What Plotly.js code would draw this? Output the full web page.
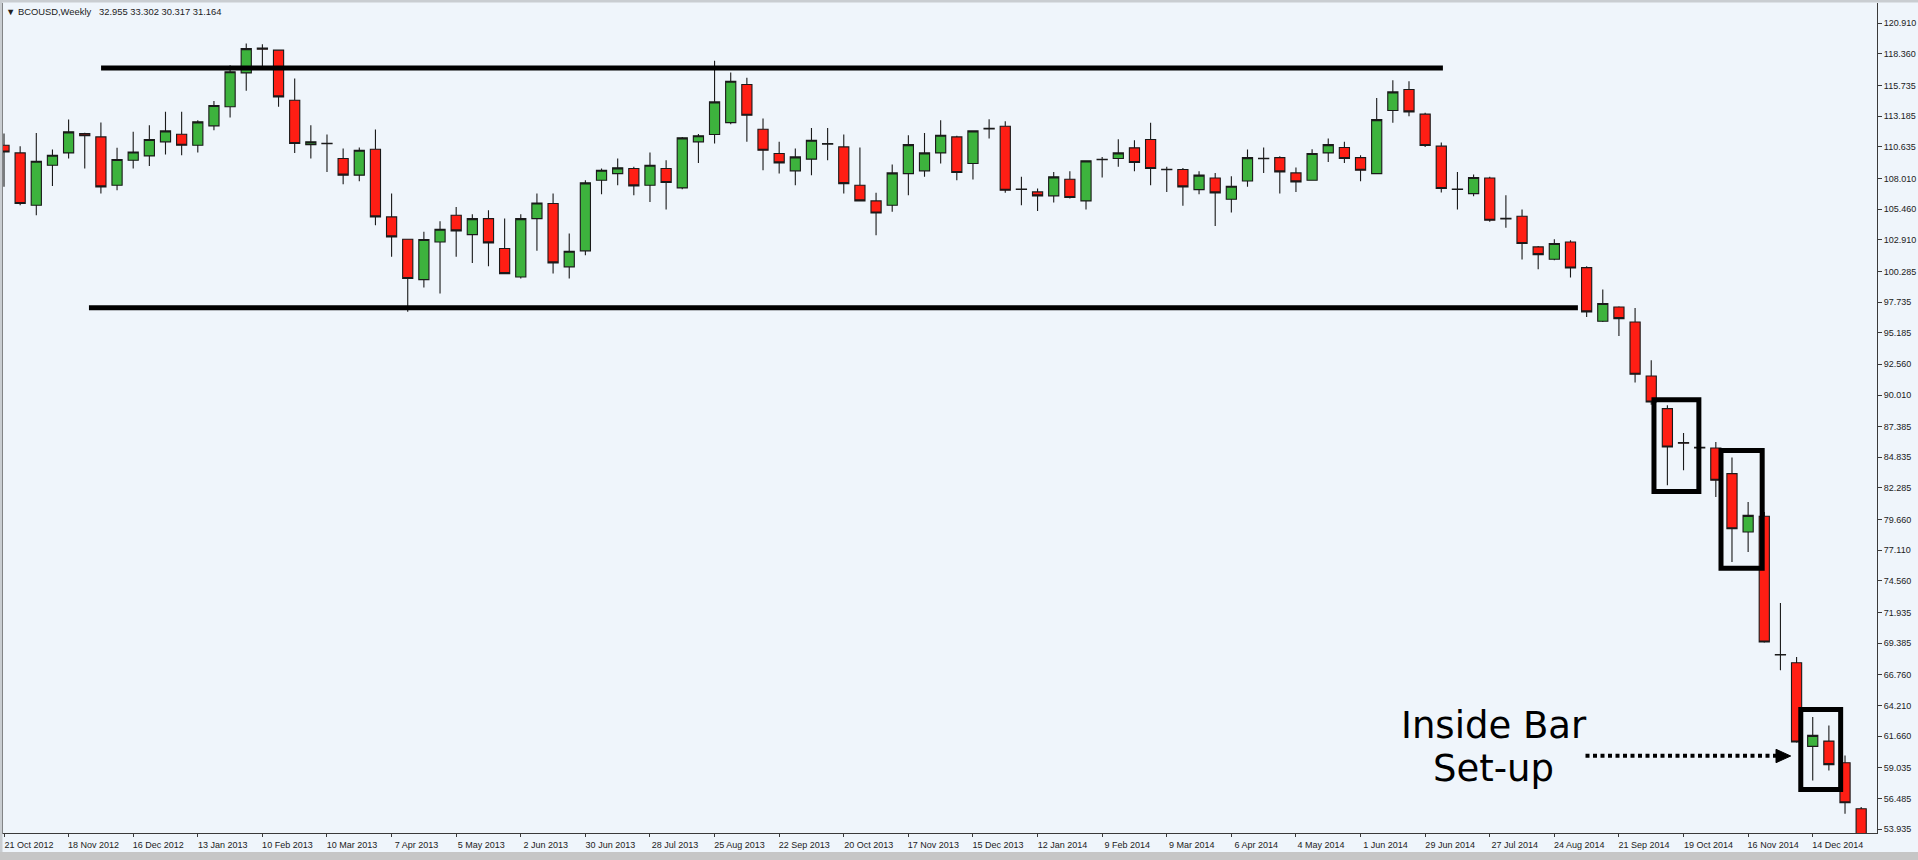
<!DOCTYPE html>
<html><head><meta charset="utf-8">
<script src="https://cdn.plot.ly/plotly-3.0.1.min.js"></script>
<style>html,body{margin:0;padding:0;background:#EFF5FB;overflow:hidden}</style>
</head><body><div id="chart" style="width:1918px;height:860px"></div>
<script>
const weeks = [
"21 Oct 2012","28 Oct 2012","4 Nov 2012","11 Nov 2012","18 Nov 2012","25 Nov 2012","2 Dec 2012","9 Dec 2012","16 Dec 2012","23 Dec 2012","30 Dec 2012",
"6 Jan 2013","13 Jan 2013","20 Jan 2013","27 Jan 2013","3 Feb 2013","10 Feb 2013","17 Feb 2013","24 Feb 2013","3 Mar 2013","10 Mar 2013","17 Mar 2013","24 Mar 2013","31 Mar 2013",
"7 Apr 2013","14 Apr 2013","21 Apr 2013","28 Apr 2013","5 May 2013","12 May 2013","19 May 2013","26 May 2013","2 Jun 2013","9 Jun 2013","16 Jun 2013","23 Jun 2013","30 Jun 2013",
"7 Jul 2013","14 Jul 2013","21 Jul 2013","28 Jul 2013","4 Aug 2013","11 Aug 2013","18 Aug 2013","25 Aug 2013","1 Sep 2013","8 Sep 2013","15 Sep 2013","22 Sep 2013","29 Sep 2013",
"6 Oct 2013","13 Oct 2013","20 Oct 2013","27 Oct 2013","3 Nov 2013","10 Nov 2013","17 Nov 2013","24 Nov 2013","1 Dec 2013","8 Dec 2013","15 Dec 2013","22 Dec 2013","29 Dec 2013",
"5 Jan 2014","12 Jan 2014","19 Jan 2014","26 Jan 2014","2 Feb 2014","9 Feb 2014","16 Feb 2014","23 Feb 2014","2 Mar 2014","9 Mar 2014","16 Mar 2014","23 Mar 2014","30 Mar 2014",
"6 Apr 2014","13 Apr 2014","20 Apr 2014","27 Apr 2014","4 May 2014","11 May 2014","18 May 2014","25 May 2014","1 Jun 2014","8 Jun 2014","15 Jun 2014","22 Jun 2014","29 Jun 2014",
"6 Jul 2014","13 Jul 2014","20 Jul 2014","27 Jul 2014","3 Aug 2014","10 Aug 2014","17 Aug 2014","24 Aug 2014","31 Aug 2014","7 Sep 2014","14 Sep 2014","21 Sep 2014","28 Sep 2014",
"5 Oct 2014","12 Oct 2014","19 Oct 2014","26 Oct 2014","2 Nov 2014","9 Nov 2014","16 Nov 2014","23 Nov 2014","30 Nov 2014","7 Dec 2014","14 Dec 2014","21 Dec 2014","28 Dec 2014","4 Jan 2015"];

const openPrice = [
110.77,110.13,105.78,109.11,110.13,111.74,111.46,107.44,109.52,109.88,111.05,111.68,110.77,112.38,113.96,116.78,118.85,118.67,114.51,110.82,
110.93,109.66,108.28,110.44,104.81,102.96,99.60,102.73,104.95,103.34,104.67,102.18,99.82,104.67,105.92,100.66,101.99,107.86,108.41,108.83,
107.44,108.83,107.22,111.05,111.66,112.65,115.81,112.10,110.08,108.64,109.61,110.90,110.63,107.44,106.14,105.78,108.41,108.64,110.13,111.46,
109.25,112.17,112.35,107.13,106.89,106.56,107.94,106.14,109.60,109.66,110.55,111.24,108.77,108.75,107.08,108.05,106.28,107.80,109.68,109.74,
108.47,107.86,110.13,110.58,109.74,108.41,113.65,115.40,113.35,110.69,107.13,106.75,108.05,104.69,104.87,102.32,101.29,102.73,100.60,96.14,
97.33,96.08,91.59,88.88,86.05,85.66,85.61,83.48,78.63,79.93,68.45,67.76,60.81,61.25,59.45,55.63];
const highPrice = [
111.74,110.69,111.79,110.41,112.90,111.80,112.65,110.55,111.88,112.43,113.54,113.54,112.85,114.45,117.42,119.22,119.16,118.72,116.31,112.43,
111.66,110.49,110.58,112.07,106.75,103.00,103.57,104.45,105.64,105.03,105.37,104.67,105.03,106.75,106.75,103.43,107.86,108.83,109.66,108.97,
110.16,109.52,111.46,111.70,117.78,116.81,116.37,112.99,111.05,110.49,112.21,112.21,111.66,110.58,106.81,109.16,111.60,111.79,112.85,111.55,
112.01,112.93,112.76,108.14,107.17,108.55,108.61,109.52,109.80,111.27,111.18,112.63,108.97,108.88,108.61,108.47,108.19,110.41,110.58,109.85,
108.91,110.44,111.32,111.05,109.94,114.70,116.17,116.09,113.46,111.00,108.55,108.33,108.14,106.61,105.42,102.40,102.96,102.87,100.71,98.77,
97.39,97.25,92.90,89.16,86.86,85.75,86.11,84.81,81.12,80.29,72.72,68.24,63.25,62.55,60.06,55.77];
const lowPrice = [
107.31,105.78,104.95,107.39,109.66,108.83,106.75,107.03,108.83,109.05,109.99,109.94,110.16,112.02,113.07,115.29,117.14,113.96,110.13,109.66,
108.55,107.53,107.78,104.12,101.49,96.92,98.94,98.44,101.49,100.99,100.71,100.05,99.69,101.99,100.10,99.69,101.63,106.70,107.44,106.61,
106.06,105.42,107.11,109.30,110.91,112.51,111.05,108.69,108.41,107.44,108.28,109.52,106.75,106.10,103.29,105.23,106.61,108.14,109.25,107.86,
107.92,111.32,106.81,105.78,105.31,106.00,106.34,105.42,108.08,108.97,108.61,107.44,106.89,105.73,106.70,104.06,105.17,107.31,108.47,106.75,
106.89,107.83,109.38,109.30,107.78,108.35,112.63,113.18,110.63,106.83,105.42,106.53,104.40,103.90,101.27,100.46,101.21,99.77,96.50,96.08,
94.92,91.04,89.20,82.51,83.75,85.55,81.53,76.13,76.96,69.43,67.13,61.12,57.98,58.81,55.21,52.50];
const closePrice = [
110.21,105.92,109.44,109.94,111.88,111.55,107.31,109.58,110.21,111.24,111.96,110.77,112.71,114.07,116.87,118.80,118.75,114.79,110.91,111.05,
110.89,108.28,110.35,104.81,103.15,99.69,102.93,103.79,103.65,104.67,102.65,100.10,104.67,105.97,100.99,101.96,107.64,108.69,108.89,107.39,
109.11,107.67,111.38,111.55,114.37,116.09,113.26,110.35,109.30,109.80,111.18,110.86,107.58,106.14,105.14,108.47,110.82,110.13,111.60,108.50,
111.96,112.13,107.03,107.09,106.56,108.14,106.42,109.47,109.56,110.13,109.33,108.83,108.73,107.31,108.28,106.81,107.36,109.74,109.64,108.55,
107.72,110.08,110.82,109.66,108.69,112.90,115.20,113.54,110.74,107.17,107.09,108.08,104.53,104.65,102.60,101.68,102.60,100.57,96.92,97.61,
96.36,91.73,89.43,85.69,86.01,85.62,82.92,78.90,80.01,69.48,68.41,61.17,61.72,59.29,56.13,53.40];

const xTickLabels = ["21 Oct 2012","18 Nov 2012","16 Dec 2012","13 Jan 2013","10 Feb 2013","10 Mar 2013","7 Apr 2013","5 May 2013","2 Jun 2013","30 Jun 2013",
"28 Jul 2013","25 Aug 2013","22 Sep 2013","20 Oct 2013","17 Nov 2013","15 Dec 2013","12 Jan 2014","9 Feb 2014","9 Mar 2014","6 Apr 2014",
"4 May 2014","1 Jun 2014","29 Jun 2014","27 Jul 2014","24 Aug 2014","21 Sep 2014","19 Oct 2014","16 Nov 2014","14 Dec 2014"];
const yTickValues = [120.910,118.360,115.735,113.185,110.635,108.010,105.460,102.910,100.285,97.735,95.185,92.560,90.010,87.385,84.835,
82.285,79.660,77.110,74.560,71.935,69.385,66.760,64.210,61.660,59.035,56.485,53.935];

const resistanceLevel = 117.19;
const supportLevel = 97.27;
const headerText = "\u25BC BCOUSD,Weekly\u00A0\u00A0 32.955 33.302 30.317 31.164";
const noteLines = ["Inside Bar", "Set-up"];

const bg = '#EFF5FB';
const axisCol = '#3a3a3a';
const tickFont = {family:'Liberation Sans, Arial, sans-serif', size:9, color:'#222'};

const trace = {
  type:'candlestick', x:weeks, open:openPrice, high:highPrice, low:lowPrice, close:closePrice,
  increasing:{line:{color:'#1a1a1a', width:1.1}, fillcolor:'#3DB33D'},
  decreasing:{line:{color:'#1a1a1a', width:1.1}, fillcolor:'#FF1E14'},
  whiskerwidth:0, hoverinfo:'skip'
};

// paper helpers (plot area: x 3..1877 px, y 3..833 px)
const px = v => (v - 3) / 1874;
const py = v => (833 - v) / 830;

const box = (x0,x1,y0,y1) => ({type:'rect', xref:'x', yref:'y', x0:x0, x1:x1, y0:y0, y1:y1, line:{color:'#000', width:5}, fillcolor:'rgba(0,0,0,0)'});

const layout = {
  width:1918, height:860,
  margin:{l:3, r:41, t:3, b:27, pad:0},
  paper_bgcolor:bg, plot_bgcolor:bg,
  showlegend:false,
  boxgap:0.37, boxgroupgap:0,
  xaxis:{type:'category', range:[-0.062, 115.98], rangeslider:{visible:false}, showgrid:false, zeroline:false,
    showline:true, linecolor:axisCol, linewidth:1, ticks:'outside', ticklen:3, tickcolor:axisCol, tickwidth:1,
    tickvals:xTickLabels, ticktext:xTickLabels, tickangle:0, ticklabelshift:25, tickfont:tickFont, fixedrange:true},
  yaxis:{side:'right', range:[53.611, 122.588], showgrid:false, zeroline:false, showline:true, mirror:true,
    linecolor:axisCol, linewidth:1, ticks:'outside', ticklen:4, tickcolor:axisCol, tickwidth:1,
    tickvals:yTickValues, tickformat:'.3f', tickfont:tickFont, fixedrange:true},
  shapes:[
    {type:'rect', xref:'paper', yref:'paper', x0:px(0), x1:px(1918), y0:py(852), y1:py(862), line:{width:0}, fillcolor:'#C6C6C6', layer:'below'},
    {type:'rect', xref:'paper', yref:'paper', x0:px(0), x1:px(1918), y0:py(0), y1:py(2.5), line:{width:0}, fillcolor:'#C9CDD1'},
    {type:'rect', xref:'paper', yref:'paper', x0:px(0), x1:px(2.5), y0:py(0), y1:py(852), line:{width:0}, fillcolor:'#C9CDD1'},
    {type:'line', xref:'x', yref:'y', x0:6.01, x1:89.10, y0:resistanceLevel, y1:resistanceLevel, line:{color:'#000', width:5}},
    {type:'line', xref:'x', yref:'y', x0:5.26, x1:97.46, y0:supportLevel, y1:supportLevel, line:{color:'#000', width:5}},
    box(102.17, 104.95, 89.62, 82.00),
    box(106.32, 108.87, 85.39, 75.61),
    box(111.26, 113.73, 63.87, 57.22),
    {type:'line', xref:'x', yref:'y', x0:97.93, x1:109.78, y0:60.03, y1:60.03, line:{color:'#000', width:4, dash:'4px,3.5px'}},
    {type:'path', xref:'paper', yref:'paper',
     path:'M '+px(1776)+','+py(749.3)+' L '+px(1790.7)+','+py(756)+' L '+px(1776)+','+py(762.7)+' Z',
     fillcolor:'#000', line:{color:'#000', width:1}}
  ],
  annotations:[
    {xref:'paper', yref:'paper', x:px(4), y:py(11.5), xanchor:'left', yanchor:'middle', showarrow:false,
     text:headerText, font:{family:'Liberation Sans, Arial, sans-serif', size:9.4, color:'#222'}},
    {xref:'x', yref:'y', x:92.26, y:62.57, xanchor:'center', yanchor:'middle', showarrow:false,
     text:noteLines[0], font:{family:'DejaVu Sans', size:37, color:'#000'}},
    {xref:'x', yref:'y', x:92.24, y:58.96, xanchor:'center', yanchor:'middle', showarrow:false,
     text:noteLines[1], font:{family:'DejaVu Sans', size:37, color:'#000'}}
  ]
};

Plotly.newPlot('chart', [trace], layout, {displayModeBar:false, staticPlot:true});
</script></body></html>
